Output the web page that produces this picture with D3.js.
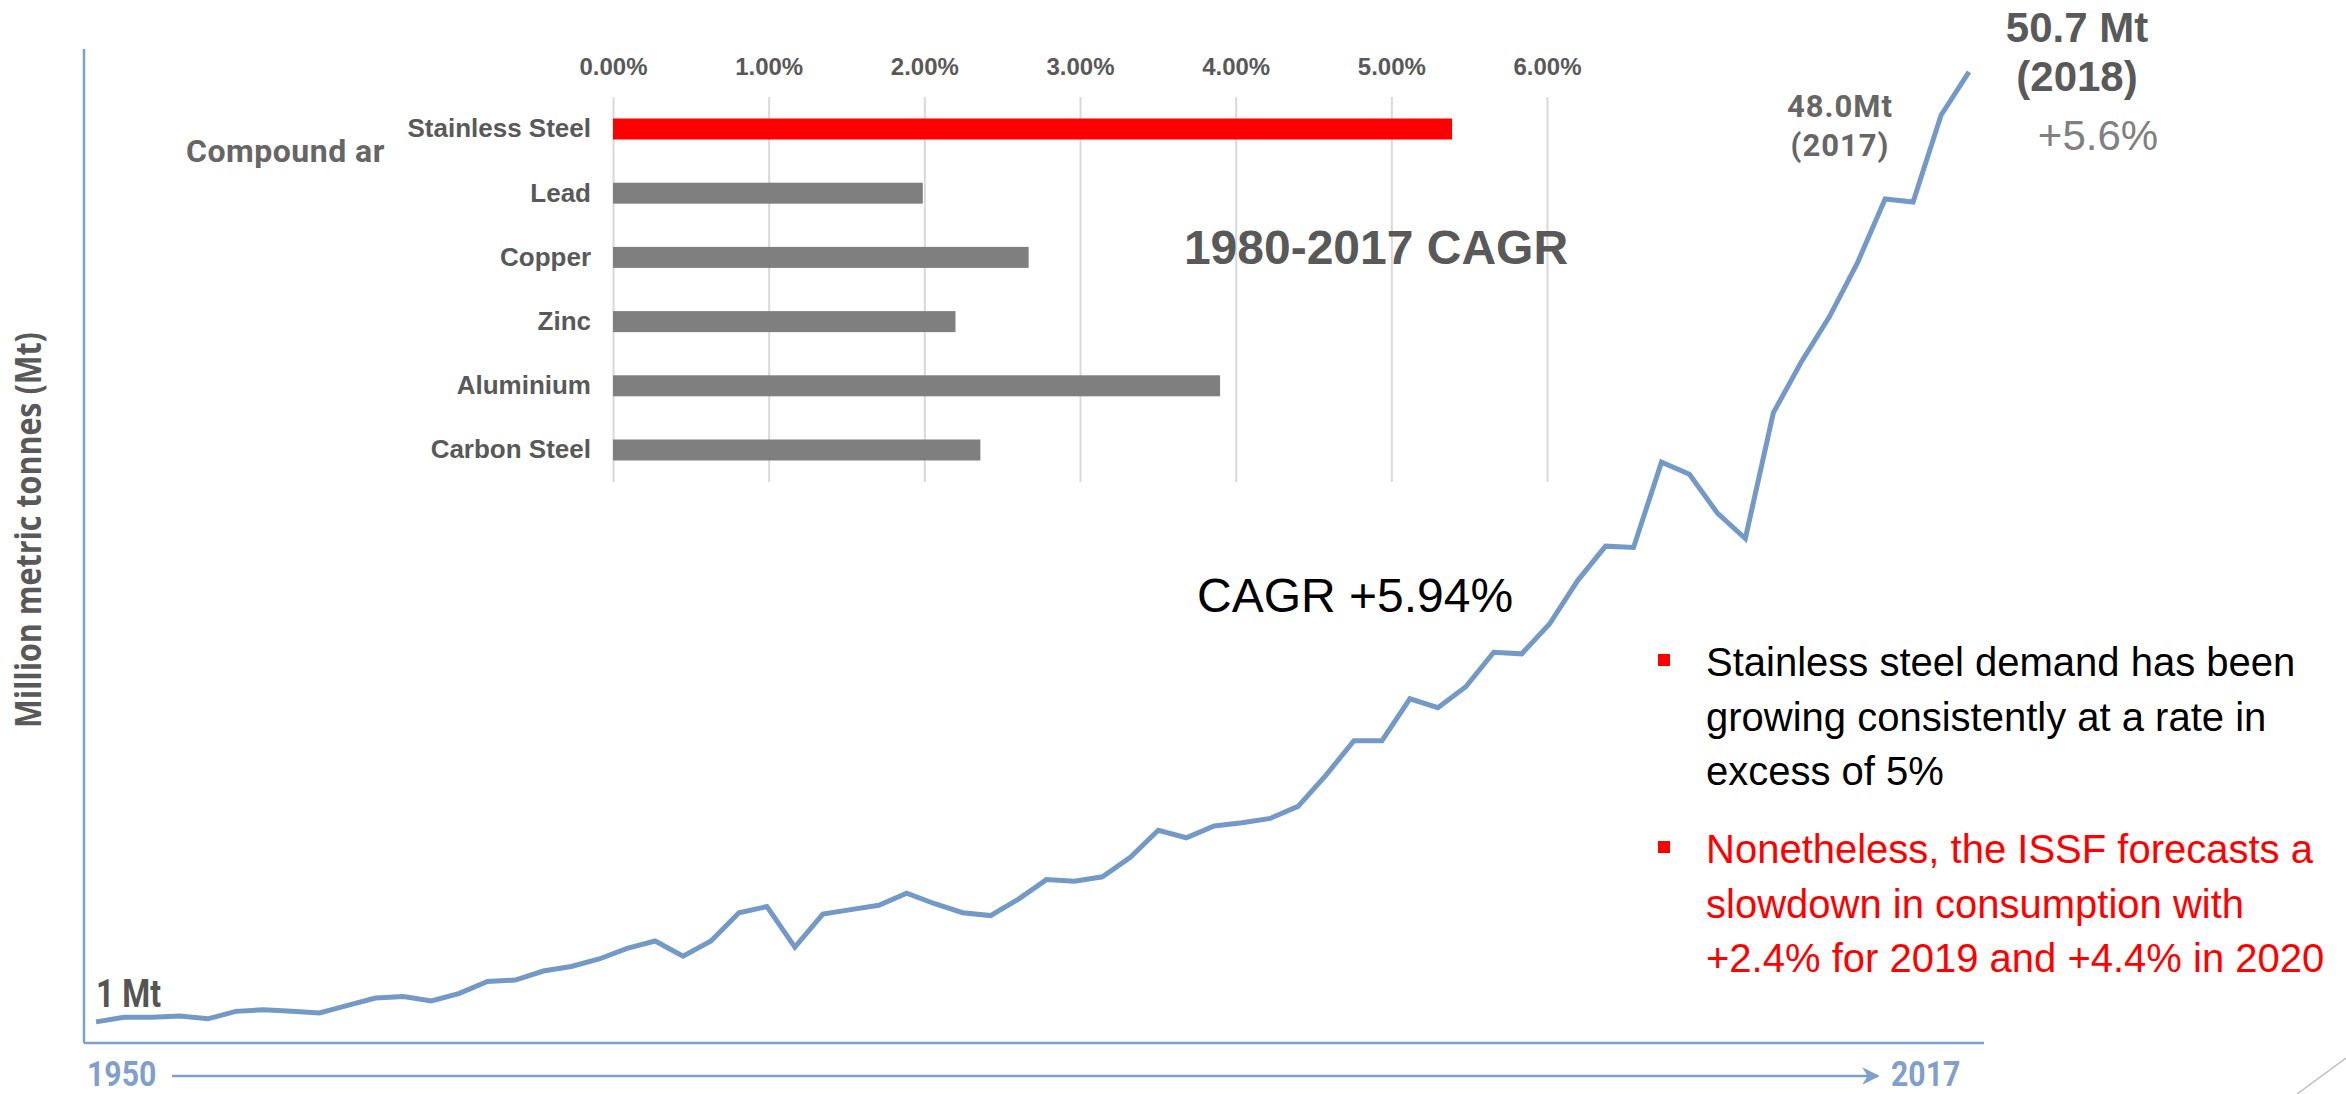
<!DOCTYPE html>
<html>
<head>
<meta charset="utf-8">
<title>Stainless steel demand</title>
<script src="https://d3js.org/d3.v7.min.js"></script>
<style>
body { margin: 0; background: #fff; }
svg text { font-family: "Liberation Sans", Arial, sans-serif; }
.din { font-family: Roboto, "Open Sans", sans-serif; font-weight: 700; }
.grid line { stroke: #d9d9d9; stroke-width: 2px; }
</style>
</head>
<body>
<script>
// stainless steel production, million metric tonnes
const years = d3.range(1951, 2019);
const production = [
  1.00, 1.24, 1.24, 1.31, 1.16, 1.55, 1.63, 1.55, 1.47, 1.86,
  2.25, 2.33, 2.10, 2.49, 3.11, 3.19, 3.66, 3.90, 4.29, 4.84,
  5.23, 4.44, 5.23, 6.71, 7.03, 4.91, 6.64, 6.87, 7.10, 7.73,
  7.18, 6.71, 6.56, 7.42, 8.44, 8.36, 8.59, 9.61, 11.02, 10.63,
  11.25, 11.41, 11.64, 12.27, 13.91, 15.71, 15.71, 17.90, 17.43, 18.53,
  20.33, 20.25, 21.82, 24.08, 25.88, 25.81, 30.27, 29.64, 27.61, 26.28,
  32.85, 35.51, 37.86, 40.67, 44.04, 43.88, 48.42, 50.69
];

// inset: 1980-2017 CAGR by metal
const metals = ["Stainless Steel", "Lead", "Copper", "Zinc", "Aluminium", "Carbon Steel"];
const cagr = [0.0539, 0.0199, 0.0267, 0.0220, 0.0390, 0.0236];
const cagrTicks = [0, 0.01, 0.02, 0.03, 0.04, 0.05, 0.06];

const bulletOne = ["Stainless steel demand has been", "growing consistently at a rate in", "excess of 5%"];
const bulletTwo = ["Nonetheless, the ISSF forecasts a", "slowdown in consumption with", "+2.4% for 2019 and +4.4% in 2020"];

const width = 2346, height = 1094;
const blue = "#7399c6", axisBlue = "#7f9fcc";

const svg = d3.select("body").append("svg")
    .attr("width", width)
    .attr("height", height);

svg.append("defs").append("marker")
    .attr("id", "arrow")
    .attr("viewBox", "0 0 10 10")
    .attr("refX", 9).attr("refY", 5)
    .attr("markerWidth", 7).attr("markerHeight", 7)
    .attr("markerUnits", "strokeWidth")
    .attr("orient", "auto")
  .append("path")
    .attr("d", "M0,0 L10,5 L0,10 L3,5 Z")
    .attr("fill", axisBlue);

// ---- main line chart ----
const x = d3.scaleLinear()
    .domain([years[0], years[years.length - 1]])
    .range([96, 1969]);

const y = d3.scaleLinear()
    .domain([0, 50])
    .range([1041, 85]);

// axis frame
svg.append("line")
    .attr("x1", 84).attr("x2", 84).attr("y1", 49).attr("y2", 1043)
    .attr("stroke", axisBlue).attr("stroke-width", 2.5);
svg.append("line")
    .attr("x1", 84).attr("x2", 1984).attr("y1", 1043).attr("y2", 1043)
    .attr("stroke", axisBlue).attr("stroke-width", 2.5);

svg.append("path")
    .datum(production)
    .attr("fill", "none")
    .attr("stroke", blue)
    .attr("stroke-width", 5)
    .attr("stroke-linejoin", "miter")
    .attr("d", d3.line()
      .x((d, i) => x(years[i]))
      .y(d => y(d)));

// y label, squeezed along its length to fit the span of the original
const yLabel = svg.append("text")
    .attr("text-anchor", "middle")
    .style("font-family", "'Open Sans', sans-serif")
    .style("font-weight", 700)
    .style("font-size", "35px")
    .attr("fill", "#595959")
    .text("Million metric tonnes (Mt)");
const squeeze = 396 / yLabel.node().getComputedTextLength();
yLabel.attr("transform", "translate(41,530) rotate(-90) scale(" + squeeze + ",1)");

// time arrow
svg.append("line")
    .attr("x1", 172).attr("x2", 1878).attr("y1", 1076).attr("y2", 1076)
    .attr("stroke", axisBlue).attr("stroke-width", 2.5)
    .attr("marker-end", "url(#arrow)");
svg.append("text").attr("class", "din")
    .attr("transform", "translate(87,1086) scale(0.84,1)")
    .style("font-size", "36px").attr("fill", axisBlue).text("1950");
svg.append("text").attr("class", "din")
    .attr("transform", "translate(1891,1086) scale(0.84,1)")
    .style("font-size", "36px").attr("fill", axisBlue).text("2017");

svg.append("text").attr("class", "din")
    .attr("transform", "translate(96,1007) scale(0.84,1)")
    .style("font-size", "38px").attr("fill", "#555").text("1 Mt");

const lab17 = svg.append("text").attr("class", "din")
    .attr("text-anchor", "middle")
    .style("font-size", "31px").style("letter-spacing", "1px")
    .attr("fill", "#666");
lab17.append("tspan").attr("x", 1840).attr("y", 117).text("48.0Mt");
lab17.append("tspan").attr("x", 1840).attr("y", 156).text("(2017)");

const lab18 = svg.append("text")
    .attr("text-anchor", "middle")
    .style("font-size", "42px").style("font-weight", 700)
    .attr("fill", "#595959");
lab18.append("tspan").attr("x", 2077).attr("y", 42).text("50.7 Mt");
lab18.append("tspan").attr("x", 2077).attr("y", 91).text("(2018)");
svg.append("text")
    .attr("x", 2098).attr("y", 150)
    .attr("text-anchor", "middle")
    .style("font-size", "42px")
    .attr("fill", "#808080")
    .text("+5.6%");

svg.append("text")
    .attr("x", 1197).attr("y", 612)
    .style("font-size", "48px")
    .attr("fill", "#000")
    .text("CAGR +5.94%");

// ---- inset bar chart ----
const bx = d3.scaleLinear()
    .domain([0, 0.06])
    .range([613, 1547]);

const by = d3.scaleBand()
    .domain(metals)
    .range([97, 482])
    .paddingInner(0.673)
    .paddingOuter(0.335);

const xAxis = d3.axisTop(bx)
    .tickValues(cagrTicks)
    .tickFormat(d3.format(".2%"))
    .tickSize(-(482 - 97))
    .tickPadding(22);

const gx = svg.append("g")
    .attr("class", "grid")
    .attr("transform", "translate(0,97)")
    .call(xAxis);
gx.select(".domain").remove();
gx.selectAll("text")
    .style("font-family", "'Liberation Sans', Arial, sans-serif")
    .style("font-size", "24px")
    .style("font-weight", 700)
    .attr("fill", "#595959");

const yAxis = d3.axisLeft(by)
    .tickSize(0)
    .tickPadding(22);

const gy = svg.append("g")
    .attr("transform", "translate(613,0)")
    .call(yAxis);
gy.select(".domain").remove();
gy.selectAll("text")
    .style("font-family", "'Liberation Sans', Arial, sans-serif")
    .style("font-size", "26px")
    .style("font-weight", 700)
    .attr("fill", "#595959");

svg.append("g")
  .selectAll("rect")
  .data(metals)
  .join("rect")
    .attr("x", bx(0))
    .attr("y", d => by(d))
    .attr("width", (d, i) => bx(cagr[i]) - bx(0))
    .attr("height", by.bandwidth())
    .attr("fill", (d, i) => i === 0 ? "#ff0000" : "#7f7f7f");

svg.append("text").attr("class", "din")
    .attr("x", 186).attr("y", 162)
    .style("font-size", "32px").style("letter-spacing", "0.5px")
    .attr("fill", "#666")
    .text("Compound ar");

svg.append("text")
    .attr("x", 1376).attr("y", 264)
    .attr("text-anchor", "middle")
    .style("font-size", "48px").style("font-weight", 700)
    .attr("fill", "#595959")
    .text("1980-2017 CAGR");

// ---- bullets ----
function bullet(lines, top, color) {
  svg.append("rect")
      .attr("x", 1658).attr("y", top - 22)
      .attr("width", 12).attr("height", 12)
      .attr("fill", "#ff0000");
  svg.append("g")
    .selectAll("text")
    .data(lines)
    .join("text")
      .attr("x", 1706)
      .attr("y", (d, i) => top + i * 54.6)
      .style("font-size", "40px")
      .attr("fill", color)
      .text(d => d);
}
bullet(bulletOne, 676, "#000");
bullet(bulletTwo, 863, "#ff0000");

// slide corner
svg.append("line")
    .attr("x1", 2297).attr("y1", 1094).attr("x2", 2346).attr("y2", 1058)
    .attr("stroke", "#bfbfbf").attr("stroke-width", 1.5);
</script>
</body>
</html>
